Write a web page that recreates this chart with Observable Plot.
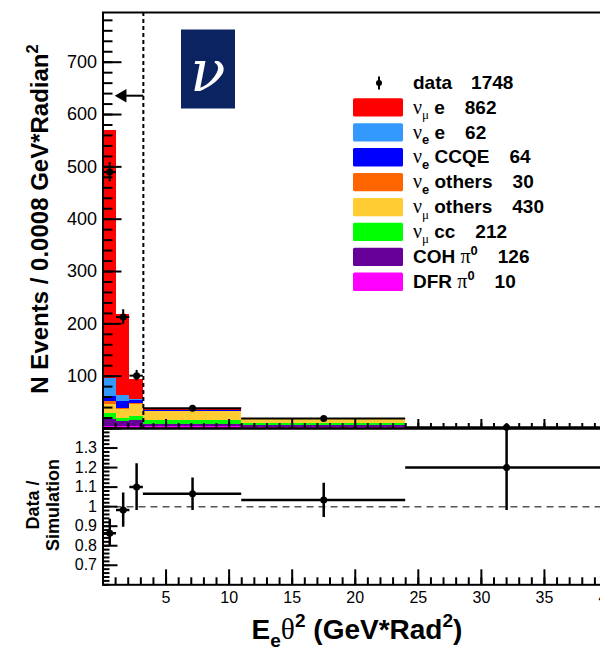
<!DOCTYPE html>
<html>
<head>
<meta charset="utf-8">
<script src="https://cdn.jsdelivr.net/npm/d3@7"></script>
<script src="https://cdn.jsdelivr.net/npm/@observablehq/plot@0.6"></script>
<style>
  html, body { margin: 0; padding: 0; background: #fff; }
  #chart { position: relative; width: 600px; height: 650px; overflow: hidden; background: #fff; }
  #chart svg { position: absolute; left: 0; top: 0; }
</style>
</head>
<body>
<div id="chart"></div>
<script>
// ---------------- data ----------------
const binEdges = [0, 1.07, 2.13, 3.2, 11, 24, 40];

// stack order, bottom -> top
const stackOrder = ["DFR π0", "COH π0", "νμ cc", "νμ others", "νe others", "νe CCQE", "νe e", "νμ e"];
const dfrPi0     = [4, 4, 4, 3, 2, 0.3];
const cohPi0     = [14, 10, 11, 4, 3.5, 0.5];
const numuCC     = [11, 6, 8, 8, 3.3, 0.3];
const numuOthers = [17, 16, 23, 17, 8.2, 0.6];
const nueOthers  = [6, 3, 2, 0.8, 0.3, 0.05];
const nueCCQE    = [10, 13, 5, 1.8, 0.5, 0.05];
const nueE       = [34, 11, 2, 0.6, 0.2, 0.05];
const numuE      = [473, 155, 39, 1.2, 0.5, 0.15];
const seriesValues = [dfrPi0, cohPi0, numuCC, numuOthers, nueOthers, nueCCQE, nueE, numuE];
const seriesColors = ["#ff00ff", "#660099", "#00ff00", "#ffcc33", "#ff6600", "#0000ff", "#3399ff", "#ff0000"];

const dataValues = [490, 213, 101, 38.8, 19.1, 2.4];
const dataErrors = [18.5, 14, 10, 3, 1.6, 0.8];

const ratioValues = [0.864, 0.983, 1.10, 1.066, 1.034, 1.20];
const ratioLow    = [0.80, 0.894, 0.98, 0.98, 0.945, 0.98];
const ratioHigh   = [0.935, 1.07, 1.22, 1.147, 1.12, 1.42];

// legend (top -> bottom)
const legendLabels = ["ν_μ e", "ν_e e", "ν_e CCQE", "ν_e others", "ν_μ others", "ν_μ cc", "COH π^0", "DFR π^0"];
const legendCounts = [862, 62, 64, 30, 430, 212, 126, 10];
const legendColors = ["#ff0000", "#3399ff", "#0000ff", "#ff6600", "#ffcc33", "#00ff00", "#660099", "#ff00ff"];
const dataLabel = "data";
const dataCount = 1748;

// annotations
const cutValue = 3.2;
const arrowFrom = 3.2, arrowTo = 1.55, arrowY = 636;

// ticks
const topYLabels = [100, 200, 300, 400, 500, 600, 700];
const topYMajor = [0, 100, 200, 300, 400, 500, 600, 700];
const topYMinor = d3.range(0, 800, 20);
const xMajor = [5, 10, 15, 20, 25, 30, 35, 40];
const xMinor = d3.range(1, 41, 1);
const ratioYLabels = [0.7, 0.8, 0.9, 1, 1.1, 1.2, 1.3];
const ratioYMinor = d3.range(30, 71, 1).map(d => d / 50);

const yTitle = "N Events / 0.0008 GeV*Radian^2";
const xTitle = "E_eθ^2 (GeV*Rad^2)";
const ratioTitle = ["Data /", "Simulation"];

// ---------------- derived tables ----------------
const stackRows = [];
for (let b = 0; b < binEdges.length - 1; b++) {
  let acc = 0;
  seriesValues.forEach((vals, s) => {
    stackRows.push({x1: binEdges[b], x2: binEdges[b + 1], y1: acc, y2: acc + vals[b], cat: stackOrder[s]});
    acc += vals[b];
  });
}
const pointRows = dataValues.map((v, b) => ({
  lo: binEdges[b], hi: binEdges[b + 1], c: (binEdges[b] + binEdges[b + 1]) / 2,
  v, vlo: v - dataErrors[b], vhi: v + dataErrors[b],
  r: ratioValues[b], rlo: ratioLow[b], rhi: ratioHigh[b]
}));

const FONT = "'Liberation Sans', Arial, Helvetica, sans-serif";
const svgStyle = `font-family: ${FONT}; background: transparent; max-width: none; color: #000;`;
const W = 608, H = 650, ML = 102.5, MR = 1;
const ratioFmt = d => d === 1 ? "1" : d3.format(".1f")(d);

// ---------------- top panel ----------------
const topPlot = Plot.plot({
  width: W, height: H,
  marginTop: 12, marginBottom: H - 428, marginLeft: ML, marginRight: MR,
  x: {domain: [0, 40]},
  y: {domain: [0, 795]},
  color: {domain: stackOrder, range: seriesColors},
  style: svgStyle,
  marks: [
    Plot.rect(stackRows, {x1: "x1", x2: "x2", y1: "y1", y2: "y2", fill: "cat", shapeRendering: "crispEdges"}),
    Plot.ruleX([cutValue], {stroke: "black", strokeWidth: 2, strokeDasharray: "4,3"}),
    Plot.link([{x1: arrowFrom, x2: arrowTo, y: arrowY}], {x1: "x1", x2: "x2", y1: "y", y2: "y", stroke: "black", strokeWidth: 2}),
    Plot.dot([{x: arrowTo, y: arrowY}], {x: "x", y: "y", symbol: "triangle", rotate: -90, r: 5, fill: "black", stroke: "none"}),
    Plot.ruleY(pointRows, {y: "v", x1: "lo", x2: "hi", stroke: "black", strokeWidth: 2}),
    Plot.ruleX(pointRows, {x: "c", y1: "vlo", y2: "vhi", stroke: "black", strokeWidth: 2}),
    Plot.dot(pointRows, {x: "c", y: "v", r: 3.5, fill: "black", stroke: "none"}),
    Plot.axisY({ticks: topYMinor, tickSize: -10, fill: "none", strokeWidth: 2, label: null}),
    Plot.axisY({ticks: topYMajor, tickSize: -19, fill: "none", strokeWidth: 2, label: null}),
    Plot.axisY({ticks: topYLabels, tickSize: 0, tickPadding: 6, fontSize: 18, label: null}),
    Plot.axisX({ticks: xMinor, tickSize: -5, fill: "none", strokeWidth: 2, label: null}),
    Plot.axisX({ticks: xMajor, tickSize: -9, fill: "none", strokeWidth: 2, label: null}),
    Plot.frame({stroke: "black", strokeWidth: 2})
  ]
});

// ---------------- ratio panel ----------------
const ratioPlot = Plot.plot({
  width: W, height: H,
  marginTop: 428, marginBottom: H - 584.3, marginLeft: ML, marginRight: MR,
  x: {domain: [0, 40]},
  y: {domain: [0.6, 1.4]},
  style: svgStyle,
  marks: [
    Plot.ruleY([1], {stroke: "#555", strokeWidth: 1.5, strokeDasharray: "7,5"}),
    Plot.ruleY(pointRows, {y: "r", x1: "lo", x2: "hi", stroke: "black", strokeWidth: 2.5, clip: true}),
    Plot.ruleX(pointRows, {x: "c", y1: "rlo", y2: "rhi", stroke: "black", strokeWidth: 2.5, clip: true}),
    Plot.dot(pointRows, {x: "c", y: "r", r: 3.5, fill: "black", stroke: "none", clip: true}),
    Plot.axisY({ticks: ratioYMinor, tickSize: -7, fill: "none", strokeWidth: 2, label: null}),
    Plot.axisY({ticks: ratioYLabels, tickSize: -15, fill: "none", strokeWidth: 2, label: null}),
    Plot.axisY({ticks: ratioYLabels, tickSize: 0, tickPadding: 6, fontSize: 16, tickFormat: ratioFmt, label: null}),
    Plot.axisX({ticks: xMinor, tickSize: -7, fill: "none", strokeWidth: 2, label: null}),
    Plot.axisX({ticks: xMajor, tickSize: -15, fill: "none", strokeWidth: 2, label: null}),
    Plot.axisX({ticks: xMajor, tickSize: 0, tickPadding: 7, fontSize: 16, label: null}),
    Plot.frame({stroke: "black", strokeWidth: 2})
  ]
});

const chart = document.getElementById("chart");
chart.appendChild(topPlot);
chart.appendChild(ratioPlot);

// ---------------- rich text helper ----------------
function rich(textSel, str, size) {
  const greek = /[νπθμ]/;
  const tokens = [];
  let i = 0;
  while (i < str.length) {
    const ch = str[i];
    if (ch === "_" || ch === "^") {
      tokens.push({t: str[i + 1], mode: ch === "_" ? "sub" : "sup"});
      i += 2;
    } else if (greek.test(ch)) {
      tokens.push({t: ch, mode: "greek"});
      i += 1;
    } else {
      let j = i;
      while (j < str.length && !greek.test(str[j]) && str[j] !== "_" && str[j] !== "^") j++;
      tokens.push({t: str.slice(i, j), mode: "normal"});
      i = j;
    }
  }
  let shift = 0;
  tokens.forEach(tok => {
    let target = 0, fs = size, weight = "bold", family = FONT;
    if (tok.mode === "sub") { target = size * 0.28; fs = size * 0.68; }
    if (tok.mode === "sup") { target = -size * 0.42; fs = size * 0.68; }
    if (greek.test(tok.t)) {
      weight = "normal";
      family = "'Liberation Serif', 'DejaVu Serif', serif";
      if (tok.mode === "greek") fs = size * 1.05;
    }
    textSel.append("tspan")
      .attr("dy", target - shift)
      .attr("font-size", fs)
      .attr("font-weight", weight)
      .attr("font-family", family)
      .text(tok.t);
    shift = target;
  });
  return shift;
}

// ---------------- top decorations ----------------
const ts = d3.select(topPlot);
// nu box
ts.append("rect").attr("x", 181).attr("y", 29.5).attr("width", 54).attr("height", 79).attr("fill", "#0b2461");
ts.append("text").attr("x", 208).attr("y", 91).attr("text-anchor", "middle")
  .attr("font-family", "'DejaVu Serif', 'Liberation Serif', serif").attr("font-style", "italic")
  .attr("font-size", 58).attr("fill", "#fff").text("ν");

// y title
const yt = ts.append("text").attr("transform", "translate(48,219) rotate(-90)").attr("text-anchor", "middle").attr("fill", "black");
rich(yt, yTitle, 24);

// legend
const lg = ts.append("g").attr("fill", "black").attr("text-anchor", "start");
lg.append("line").attr("x1", 379).attr("x2", 379).attr("y1", 76.5).attr("y2", 89.5).attr("stroke", "black").attr("stroke-width", 2);
lg.append("circle").attr("cx", 379).attr("cy", 83).attr("r", 3).attr("fill", "black");
const dl = lg.append("text").attr("x", 413).attr("y", 88.5).attr("text-anchor", "start");
const s0 = rich(dl, dataLabel, 19);
dl.append("tspan").attr("dx", 19).attr("dy", -s0).attr("font-size", 19).attr("font-weight", "bold").text(dataCount);

legendLabels.forEach((lab, k) => {
  const y0 = 98.3 + 24.9 * k;
  lg.append("rect").attr("x", 353).attr("y", y0).attr("width", 50).attr("height", 18.3).attr("rx", 1.5).attr("fill", legendColors[k]);
  const t = lg.append("text").attr("x", 413).attr("y", y0 + 15.3).attr("text-anchor", "start");
  const s = rich(t, lab, 19);
  t.append("tspan").attr("dx", 20).attr("dy", -s).attr("font-size", 19).attr("font-weight", "bold").attr("font-family", FONT).text(legendCounts[k]);
});

// ---------------- ratio decorations ----------------
const rs = d3.select(ratioPlot);
rs.append("text").attr("transform", "translate(39,505) rotate(-90)").attr("text-anchor", "middle")
  .attr("font-size", 18).attr("font-weight", "bold").text(ratioTitle[0]);
rs.append("text").attr("transform", "translate(59,505) rotate(-90)").attr("text-anchor", "middle")
  .attr("font-size", 18).attr("font-weight", "bold").text(ratioTitle[1]);
const xt = rs.append("text").attr("x", 357).attr("y", 639).attr("text-anchor", "middle");
rich(xt, xTitle, 28);
</script>
</body>
</html>
